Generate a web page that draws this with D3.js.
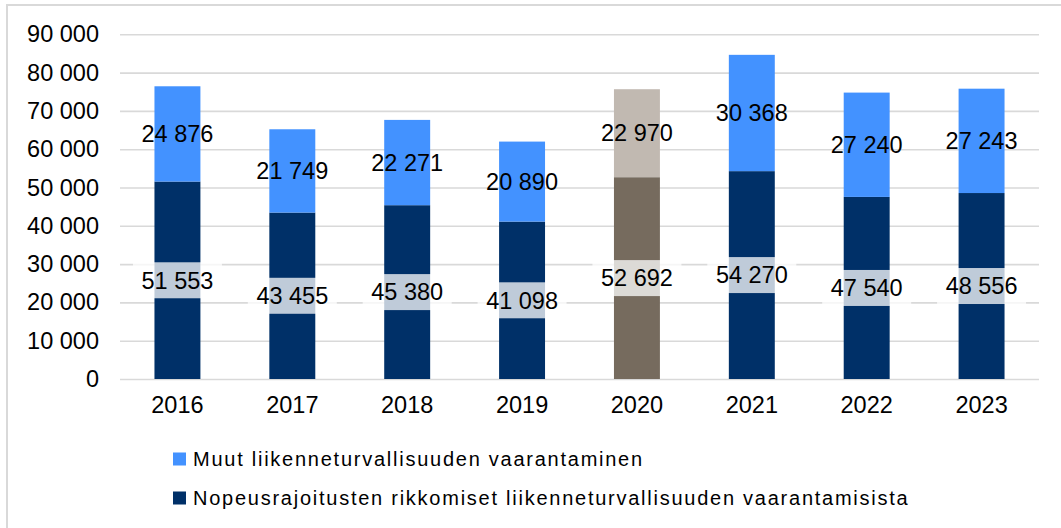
<!DOCTYPE html>
<html>
<head>
<meta charset="utf-8">
<script src="https://cdn.jsdelivr.net/npm/d3@7"></script>
<style>
  body { margin: 0; background: #fff; }
  svg text { font-family: "Liberation Sans", Arial, sans-serif; fill: #000; }
</style>
</head>
<body>
<svg id="chart" width="1061" height="528"></svg>
<script>
// data
const years = ["2016", "2017", "2018", "2019", "2020", "2021", "2022", "2023"];
const muut = [24876, 21749, 22271, 20890, 22970, 30368, 27240, 27243];
const nopeus = [51553, 43455, 45380, 41098, 52692, 54270, 47540, 48556];
const yTicks = [0, 10000, 20000, 30000, 40000, 50000, 60000, 70000, 80000, 90000];
const seriesNames = [
  "Muut liikenneturvallisuuden vaarantaminen",
  "Nopeusrajoitusten rikkomiset liikenneturvallisuuden vaarantamisista"
];

const svg = d3.select("#chart");
const plotLeft = 120, plotRight = 1039, plotTop = 34.3, plotBottom = 379;

// outer frame
svg.append("rect")
  .attr("x", 7).attr("y", 5)
  .attr("width", 1070).attr("height", 540)
  .attr("fill", "none").attr("stroke", "#d9d9d9").attr("stroke-width", 2);

const x = d3.scaleBand().domain(years).range([plotLeft, plotRight]).paddingInner(0.6).paddingOuter(0.3);
const y = d3.scaleLinear().domain([0, 90000]).range([plotBottom, plotTop]);

const fmt = v => d3.format(",")(v).replace(/,/g, " ");

// gridlines + y labels
const yAxis = svg.append("g")
  .attr("transform", `translate(${plotLeft},0)`)
  .call(d3.axisLeft(y).tickValues(yTicks).tickSize(-(plotRight - plotLeft)).tickPadding(21).tickFormat(fmt));
yAxis.select(".domain").remove();
yAxis.selectAll(".tick line").attr("stroke", "#d9d9d9").attr("stroke-width", 1.6);
yAxis.selectAll(".tick text").attr("font-size", 23.5).attr("fill", "#000")
  .style("font-family", '"Liberation Sans", Arial, sans-serif');

// x labels
const xAxis = svg.append("g")
  .attr("transform", `translate(0,${plotBottom})`)
  .call(d3.axisBottom(x).tickSize(0).tickPadding(17));
xAxis.select(".domain").remove();
xAxis.selectAll(".tick text").attr("font-size", 23.5).attr("fill", "#000")
  .style("font-family", '"Liberation Sans", Arial, sans-serif');

const colDark = (d, i) => years[i] === "2020" ? "#766b5e" : "#003068";
const colLight = (d, i) => years[i] === "2020" ? "#c1b9b1" : "#4392ff";

const bars = svg.append("g");
bars.selectAll("rect.dark").data(nopeus).join("rect")
  .attr("class", "dark")
  .attr("x", (d, i) => x(years[i]))
  .attr("width", x.bandwidth())
  .attr("y", d => y(d))
  .attr("height", d => y(0) - y(d))
  .attr("fill", colDark);
bars.selectAll("rect.light").data(muut).join("rect")
  .attr("class", "light")
  .attr("x", (d, i) => x(years[i]))
  .attr("width", x.bandwidth())
  .attr("y", (d, i) => y(nopeus[i] + d))
  .attr("height", (d, i) => y(nopeus[i]) - y(nopeus[i] + d))
  .attr("fill", colLight);

// labels
const labels = svg.append("g").attr("font-size", 23.5).attr("text-anchor", "middle");
const bottomLab = labels.selectAll("g.bl").data(nopeus).join("g").attr("class", "bl")
  .attr("transform", (d, i) => `translate(${x(years[i]) + x.bandwidth() / 2},${y(d / 2)})`);
bottomLab.append("rect")
  .attr("x", -44.5).attr("y", -18).attr("width", 89).attr("height", 36)
  .attr("fill", "#fff").attr("fill-opacity", 0.75);
bottomLab.append("text").attr("dy", "0.35em").text(fmt);

labels.selectAll("text.tl").data(muut).join("text").attr("class", "tl")
  .attr("x", (d, i) => x(years[i]) + x.bandwidth() / 2)
  .attr("y", (d, i) => y(nopeus[i] + d / 2))
  .attr("dy", "0.35em")
  .text(fmt);

// legend
const legend = svg.append("g").attr("transform", "translate(173,459)");
const items = legend.selectAll("g").data(seriesNames).join("g")
  .attr("transform", (d, i) => `translate(0,${i * 39})`);
items.append("rect").attr("x", 0).attr("y", -6.5).attr("width", 13).attr("height", 13)
  .attr("fill", (d, i) => i === 0 ? "#4392ff" : "#003068");
items.append("text").attr("x", 20).attr("dy", "0.35em").attr("font-size", 20)
  .attr("letter-spacing", 1.75).text(d => d);
</script>
</body>
</html>
